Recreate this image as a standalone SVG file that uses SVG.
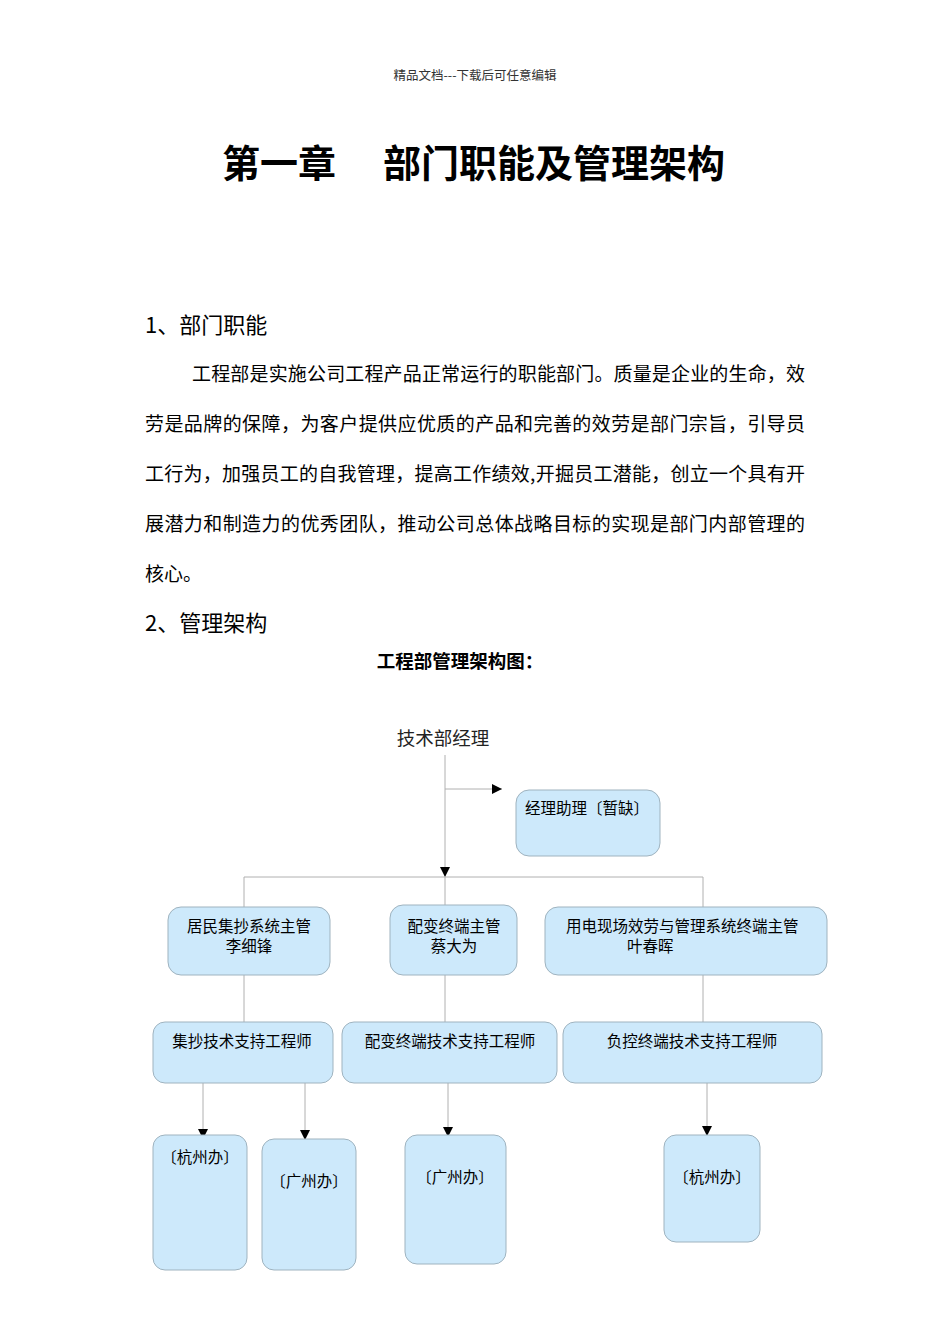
<svg xmlns="http://www.w3.org/2000/svg" width="950" height="1344" viewBox="0 0 950 1344">
<style>
text{font-family:"Noto Sans CJK SC","Liberation Sans",sans-serif;fill:#000}
.hdr{font-size:12.5px;fill:#333}
.title{font-size:38px;font-weight:bold}
.h2{font-size:22px}
.p{font-size:19px}
.sub{font-size:18.5px;font-weight:bold}
.bt{font-size:15.5px}
.box{fill:#cde9fb;stroke:#9fb3bf;stroke-width:1}
.ln{stroke:#b0b0b0;stroke-width:1;fill:none}
</style>
<defs>
<marker id="ah" markerWidth="11" markerHeight="11" refX="10" refY="5" orient="auto" markerUnits="userSpaceOnUse">
<path d="M0,0 L10,5 L0,10 Z" fill="#000"/>
</marker>
</defs>
<rect width="950" height="1344" fill="#fff"/>
<text class="hdr" x="475" y="80" text-anchor="middle">精品文档---下载后可任意编辑</text>
<text class="title" x="222" y="177">第一章</text>
<text class="title" x="383" y="177">部门职能及管理架构</text>
<text class="h2" x="145" y="333">1、部门职能</text>
<text class="p" x="192" y="381" textLength="613" lengthAdjust="spacing">工程部是实施公司工程产品正常运行的职能部门。质量是企业的生命，效</text>
<text class="p" x="145" y="431" textLength="660" lengthAdjust="spacing">劳是品牌的保障，为客户提供应优质的产品和完善的效劳是部门宗旨，引导员</text>
<text class="p" x="145" y="481" textLength="660" lengthAdjust="spacing">工行为，加强员工的自我管理，提高工作绩效,开掘员工潜能，创立一个具有开</text>
<text class="p" x="145" y="531" textLength="660" lengthAdjust="spacing">展潜力和制造力的优秀团队，推动公司总体战略目标的实现是部门内部管理的</text>
<text class="p" x="145" y="581">核心。</text>
<text class="h2" x="145" y="631">2、管理架构</text>
<text class="sub" x="460" y="668" text-anchor="middle">工程部管理架构图：</text>

<g id="connectors">
<line class="ln" x1="445" y1="755" x2="445" y2="877" marker-end="url(#ah)"/>
<line class="ln" x1="445" y1="789" x2="502" y2="789" marker-end="url(#ah)"/>
<line class="ln" x1="244" y1="877" x2="703" y2="877"/>
<line class="ln" x1="244" y1="877" x2="244" y2="908"/>
<line class="ln" x1="445" y1="877" x2="445" y2="905"/>
<line class="ln" x1="703" y1="877" x2="703" y2="908"/>
<line class="ln" x1="244" y1="975" x2="244" y2="1022"/>
<line class="ln" x1="445" y1="975" x2="445" y2="1022"/>
<line class="ln" x1="703" y1="975" x2="703" y2="1022"/>
<line class="ln" x1="203" y1="1083" x2="203" y2="1139" marker-end="url(#ah)"/>
<line class="ln" x1="305" y1="1083" x2="305" y2="1140" marker-end="url(#ah)"/>
<line class="ln" x1="448" y1="1083" x2="448" y2="1137" marker-end="url(#ah)"/>
<line class="ln" x1="707" y1="1083" x2="707" y2="1136" marker-end="url(#ah)"/>
</g>

<g id="n-manager">
<text x="443" y="745" text-anchor="middle" style="font-size:18.5px;fill:#222">技术部经理</text>
</g>
<g id="n-assistant">
<rect class="box" x="516" y="790" width="144" height="66" rx="13"/>
<text class="bt" x="525" y="814">经理助理〔暂缺〕</text>
</g>
<g id="n-sup1">
<rect class="box" x="168" y="907" width="162" height="68" rx="13"/>
<text class="bt" x="249" y="932" text-anchor="middle">居民集抄系统主管</text>
<text class="bt" x="249" y="952" text-anchor="middle">李细锋</text>
</g>
<g id="n-sup2">
<rect class="box" x="390" y="905" width="127" height="70" rx="13"/>
<text class="bt" x="454" y="932" text-anchor="middle">配变终端主管</text>
<text class="bt" x="454" y="952" text-anchor="middle">蔡大为</text>
</g>
<g id="n-sup3">
<rect class="box" x="545" y="907" width="282" height="68" rx="13"/>
<text class="bt" x="566" y="932">用电现场效劳与管理系统终端主管</text>
<text class="bt" x="627" y="952">叶春晖</text>
</g>
<g id="n-eng1">
<rect class="box" x="153" y="1022" width="180" height="61" rx="12"/>
<text class="bt" x="242" y="1047" text-anchor="middle">集抄技术支持工程师</text>
</g>
<g id="n-eng2">
<rect class="box" x="342" y="1022" width="215" height="61" rx="12"/>
<text class="bt" x="450" y="1047" text-anchor="middle">配变终端技术支持工程师</text>
</g>
<g id="n-eng3">
<rect class="box" x="563" y="1022" width="259" height="61" rx="12"/>
<text class="bt" x="692" y="1047" text-anchor="middle">负控终端技术支持工程师</text>
</g>
<g id="n-hz1">
<rect class="box" x="153" y="1135" width="94" height="135" rx="12"/>
<text class="bt" x="200" y="1163" text-anchor="middle">〔杭州办〕</text>
</g>
<g id="n-gz1">
<rect class="box" x="262" y="1139" width="94" height="131" rx="12"/>
<text class="bt" x="309" y="1187" text-anchor="middle">〔广州办〕</text>
</g>
<g id="n-gz2">
<rect class="box" x="405" y="1135" width="101" height="129" rx="12"/>
<text class="bt" x="455" y="1183" text-anchor="middle">〔广州办〕</text>
</g>
<g id="n-hz2">
<rect class="box" x="664" y="1135" width="96" height="107" rx="12"/>
<text class="bt" x="712" y="1183" text-anchor="middle">〔杭州办〕</text>
</g>
</svg>
